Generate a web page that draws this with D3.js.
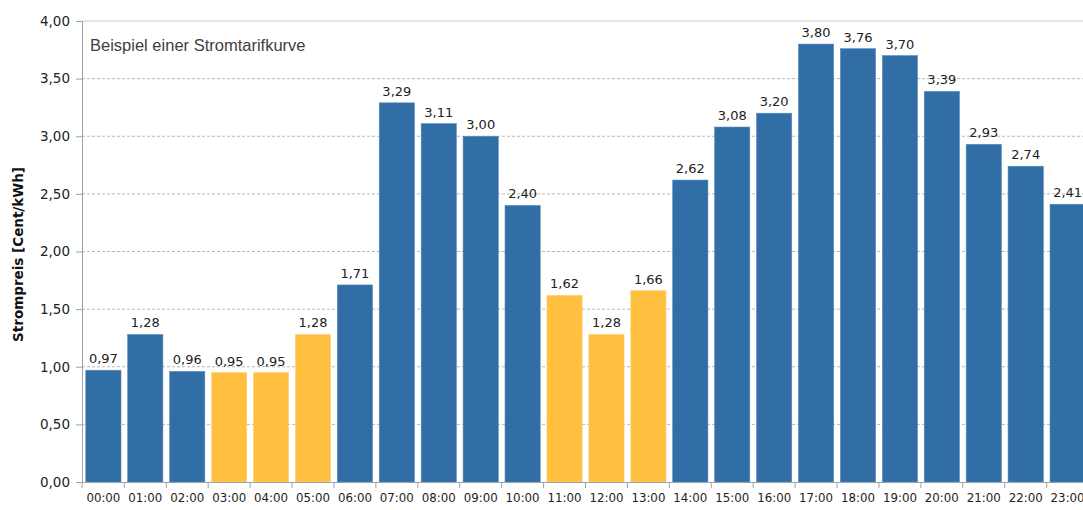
<!DOCTYPE html>
<html><head><meta charset="utf-8">
<script src="https://cdn.jsdelivr.net/npm/d3@7"></script>
<style>body{margin:0;background:#fff;overflow:hidden}</style>
</head><body><svg id="c" width="1083" height="510"></svg>
<script>
const hours = ["00:00","01:00","02:00","03:00","04:00","05:00","06:00","07:00","08:00","09:00","10:00","11:00","12:00","13:00","14:00","15:00","16:00","17:00","18:00","19:00","20:00","21:00","22:00","23:00"];
const prices = [0.97,1.28,0.96,0.95,0.95,1.28,1.71,3.29,3.11,3.00,2.40,1.62,1.28,1.66,2.62,3.08,3.20,3.80,3.76,3.70,3.39,2.93,2.74,2.41];
const cheapHours = ["03:00","04:00","05:00","11:00","12:00","13:00"];
const yTicks = [0,0.5,1,1.5,2,2.5,3,3.5,4];
const title = "Beispiel einer Stromtarifkurve";
const yTitle = "Strompreis [Cent/kWh]";

const svg = d3.select("#c");
const m = {l:82, t:21, r:1089, b:482};
const x = d3.scaleBand().domain(hours).range([m.l, m.r]).paddingInner(0.16).paddingOuter(0.09);
const y = d3.scaleLinear().domain([0,4]).range([m.b, m.t]);
const fmt = v => d3.format(".2f")(v).replace(".", ",");
const font = "'DejaVu Sans', sans-serif";

// grid
svg.append("g").selectAll("line").data(yTicks.filter(d=>d>0 && d<4)).join("line")
  .attr("x1", m.l).attr("x2", m.r).attr("y1", d=>y(d)).attr("y2", d=>y(d))
  .attr("stroke", "#b8b8b8").attr("stroke-dasharray", "3,2").attr("stroke-width", 1);
svg.append("line").attr("x1", m.l).attr("x2", m.r).attr("y1", y(4)).attr("y2", y(4))
  .attr("stroke", "#c8ced6").attr("stroke-width", 1.2);

// bars
const data = hours.map((h,i)=>({h, v: prices[i]}));
svg.append("g").selectAll("rect").data(data).join("rect")
  .attr("x", d=>x(d.h)).attr("width", x.bandwidth())
  .attr("y", d=>y(d.v)).attr("height", d=>y(0)-y(d.v))
  .attr("fill", d=>cheapHours.includes(d.h) ? "#ffbf3f" : "#326ea6")
  .attr("stroke", d=>cheapHours.includes(d.h) ? "#ffd37a" : "#5a8cbd").attr("stroke-width", 0.6);

// value labels
svg.append("g").selectAll("text").data(data).join("text")
  .attr("x", d=>x(d.h)+x.bandwidth()/2).attr("y", d=>y(d.v)-7)
  .attr("text-anchor","middle").attr("font-family", font).attr("font-size", 13)
  .attr("fill", "#222").text(d=>fmt(d.v));

// y axis
const ya = d3.axisLeft(y).tickValues(yTicks).tickFormat(fmt).tickSize(6).tickPadding(6);
const yg = svg.append("g").attr("transform", `translate(${m.l},0)`).call(ya);
yg.select(".domain").attr("stroke", "#9aa4ae");
yg.selectAll(".tick line").attr("stroke", "#9aa4ae");
yg.selectAll("text").attr("font-family", font).attr("font-size", 13.5).attr("fill", "#222");

// x axis
const xa = d3.axisBottom(x).tickSize(0).tickPadding(12);
const xg = svg.append("g").attr("transform", `translate(0,${m.b})`).call(xa);
xg.select(".domain").attr("stroke", "#9aa4ae");
xg.selectAll("text").attr("font-family", font).attr("font-size", 11.8).attr("fill", "#222");
// boundary ticks
const bounds = hours.map(h=>x(h) - x.step()*x.paddingInner()/2);
bounds[0] = m.l;
svg.append("g").selectAll("line").data(bounds).join("line")
  .attr("x1", d=>d).attr("x2", d=>d).attr("y1", m.b).attr("y2", m.b+6)
  .attr("stroke", "#9aa4ae");

// titles
svg.append("text").attr("x", 90).attr("y", 51).attr("font-family", "'Liberation Sans', Arial, sans-serif")
  .attr("font-size", 16.5).attr("fill", "#404040").text(title);
svg.append("text").attr("transform", `translate(23,${(m.t+m.b)/2+3}) rotate(-90)`)
  .attr("text-anchor","middle").attr("font-family", font).attr("font-weight","bold")
  .attr("font-size", 13.5).attr("fill", "#111").text(yTitle);
</script></body></html>
